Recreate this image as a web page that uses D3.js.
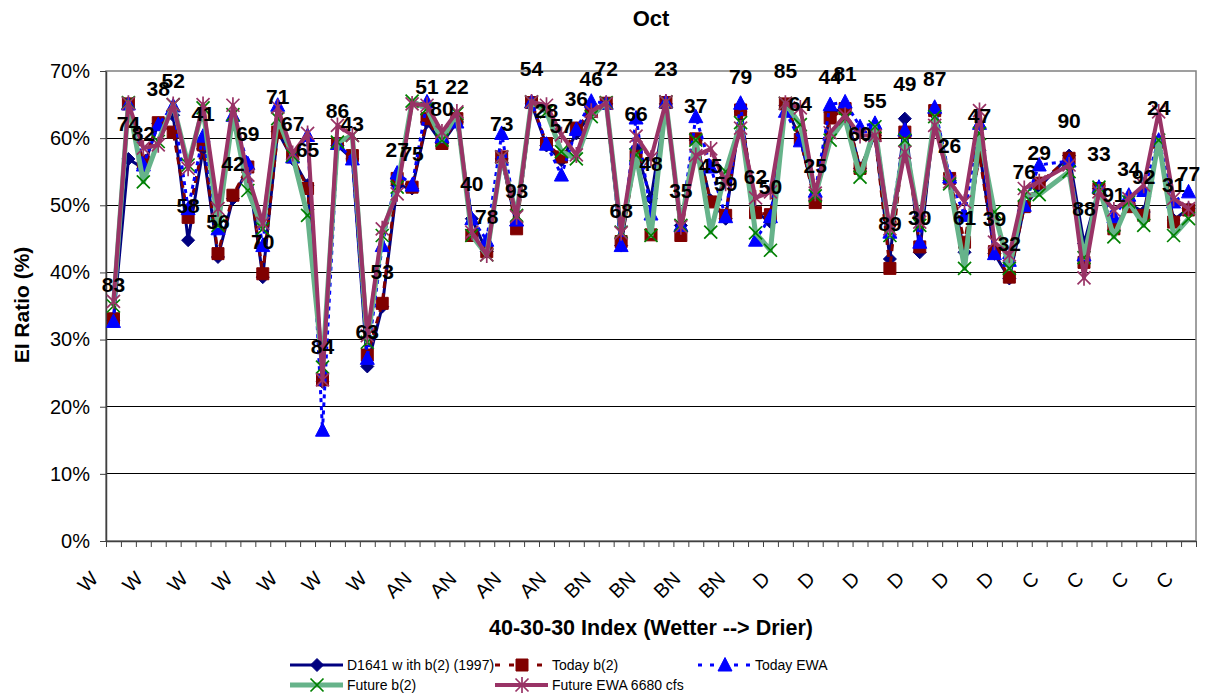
<!DOCTYPE html>
<html><head><meta charset="utf-8">
<script src="https://cdn.jsdelivr.net/npm/d3@7"></script>
<style>body{margin:0;background:#fff}svg{display:block;font-family:"Liberation Sans",Arial,sans-serif}</style>
</head><body><svg id="c" width="1208" height="697"></svg>
<script>
// ---------- data ----------
const years = ["83","74","82","38","52","58","41","56","42","69","70","71","67","65","84","86","43","63","53","27","75",
  "51","80","22","40","78","73","93","54","28","57",
  "36","46","72","68","66","48","23","35","37","45","59","79","62","50",
  "85","64","25","44","81","60","55","89","49","30","87","26","61","47","39","32",
  "76","29","94","90","88","33","91","34","92","24","31","77"];
const yearTypes = ["W","W","W","W","W","W","W","W","W","W","W","W","W","W","W","W","W","W","W","W","W",
  "AN","AN","AN","AN","AN","AN","AN","AN","AN","AN",
  "BN","BN","BN","BN","BN","BN","BN","BN","BN","BN","BN","BN","BN","BN",
  "D","D","D","D","D","D","D","D","D","D","D","D","D","D","D","D",
  "C","C","C","C","C","C","C","C","C","C","C","C"];
const d1641 = [32.9,56.9,55.5,62.2,63.4,44.8,58.4,42.3,51.0,55.5,39.3,61.0,56.9,53.0,23.7,58.9,56.9,26.0,34.9,53.0,52.5,
  62.4,59.2,62.4,48.0,43.1,56.9,47.0,65.1,58.9,56.7,
  60.7,63.6,65.1,44.0,58.4,51.0,65.1,47.0,59.7,50.7,48.0,63.9,49.0,47.5,
  64.9,59.9,50.7,63.9,64.4,55.5,60.4,42.0,62.9,43.0,63.6,53.7,43.0,58.2,42.8,39.1,
  49.8,52.7,null,57.4,44.3,52.5,46.3,50.2,49.0,59.4,47.8,49.5];
const todayB2 = [33.1,65.1,56.5,62.3,60.9,48.2,59.0,42.8,51.5,55.7,39.8,60.9,57.2,52.5,24.0,59.2,57.4,27.7,35.4,54.0,52.7,
  62.9,59.2,62.9,45.5,43.1,57.2,46.5,65.3,59.2,57.2,
  61.5,64.0,65.2,44.6,57.3,45.6,65.3,45.5,59.9,50.5,48.5,64.2,48.9,48.6,
  65.1,59.8,50.4,63.0,64.4,55.5,60.4,40.6,60.9,43.8,64.1,54.0,44.5,57.4,43.1,39.3,
  49.8,53.3,null,57.0,41.5,52.5,46.5,49.8,48.5,59.4,47.5,49.3];
const todayEWA = [32.7,65.1,56.0,62.0,64.8,49.5,60.3,46.5,63.4,56.2,44.0,64.9,57.2,60.4,16.5,59.2,56.9,27.2,44.0,54.8,53.0,
  65.4,60.2,62.4,48.0,44.8,60.7,47.8,65.4,59.1,54.5,
  61.3,65.5,65.2,44.0,63.0,48.7,65.4,47.0,63.2,55.7,48.3,65.2,44.8,48.3,
  64.0,59.6,52.1,65.0,65.4,61.7,62.2,46.0,61.2,44.5,64.6,54.2,48.5,62.2,42.8,41.8,
  50.0,56.0,null,56.6,42.6,52.7,48.3,51.5,52.2,59.7,50.5,52.0];
const futureB2 = [35.0,65.3,53.5,59.5,65.0,56.0,64.5,47.0,63.5,52.2,46.5,62.9,57.4,48.5,25.9,59.4,60.4,29.6,45.5,52.7,65.5,
  64.4,59.7,63.7,45.5,42.6,57.2,48.5,65.4,63.9,58.0,
  56.9,63.2,65.3,46.0,57.5,45.5,65.4,47.0,59.7,46.0,55.0,62.3,45.9,43.3,
  65.2,62.0,51.4,59.7,62.9,54.2,61.7,45.5,59.7,47.0,63.2,53.2,40.6,60.7,49.0,40.6,
  51.5,51.6,null,55.0,42.2,52.7,45.3,50.5,47.0,59.7,45.5,48.0];
const futureEWA = [35.7,65.2,58.5,59.0,65.0,55.5,65.0,49.5,64.9,54.5,47.3,64.6,57.7,60.7,24.0,61.9,60.4,30.6,46.5,51.7,65.1,
  64.9,60.9,63.9,46.0,42.6,57.2,48.3,65.4,64.9,60.5,
  57.5,64.0,65.2,45.9,60.3,57.0,65.4,46.8,57.4,58.4,53.3,61.5,51.1,52.0,
  65.2,64.5,51.8,60.8,63.4,60.4,60.4,46.5,57.9,47.5,61.9,53.5,50.5,64.1,44.5,42.6,
  52.5,53.5,null,56.0,39.2,52.0,49.3,51.0,53.0,63.9,51.0,49.5];
const seriesNames = ["D1641 w ith b(2) (1997)","Today b(2)","Today EWA","Future b(2)","Future EWA 6680 cfs"];
const yTicks = [0,10,20,30,40,50,60,70];
const titleText = "Oct";
const xTitle = "40-30-30 Index (Wetter --> Drier)";
const yTitle = "EI Ratio (%)";

// ---------- styles ----------
const styles = [
  {values:d1641,    line:"#000080", width:3,   dash:null,  marker:"diamond", mfill:"#000080", mstroke:"#000080"},
  {values:todayB2,  line:"#800000", width:3,   dash:"7,5", marker:"square",  mfill:"#800000", mstroke:"#800000"},
  {values:todayEWA, line:"#0000FF", width:3,   dash:"4,4", marker:"triangle",mfill:"#0000FF", mstroke:"#0000FF"},
  {values:futureB2, line:"#66B38A", width:5,   dash:null,  marker:"x",       mfill:"none",    mstroke:"#008000"},
  {values:futureEWA,line:"#993366", width:4,   dash:null,  marker:"star",    mfill:"none",    mstroke:"#993366"}
];
function markerPath(t){
  switch(t){
    case "diamond": return "M0,-6.5L6.5,0L0,6.5L-6.5,0Z";
    case "square": return "M-6,-6H6V6H-6Z";
    case "triangle": return "M0,-7.5L7,6L-7,6Z";
    case "x": return "M-6.5,-6.5L6.5,6.5M-6.5,6.5L6.5,-6.5";
    case "star": return "M-6.5,-6.5L6.5,6.5M-6.5,6.5L6.5,-6.5M0,-8L0,8";
  }
}

// ---------- chart ----------
const svg = d3.select("#c");
const L=106, R=1196, T=71, B=541;
const n = years.length;
const x = d3.scaleBand().domain(d3.range(n)).range([L,R]).padding(0);
const xb = d3.scaleLinear().domain([0,n]).range([L,R]);
const y = d3.scaleLinear().domain([0,70]).range([B,T]);
const cx = i => x(i) + x.bandwidth()/2;

// gridlines
svg.append("g").selectAll("line").data(yTicks.filter(v=>v>0 && v<70)).join("line")
  .attr("x1",L).attr("x2",R).attr("y1",d=>y(d)).attr("y2",d=>y(d))
  .attr("stroke","#000").attr("stroke-width",1).attr("shape-rendering","crispEdges");
// plot border
svg.append("rect").attr("x",L).attr("y",T).attr("width",R-L).attr("height",B-T)
  .attr("fill","none").attr("stroke","#808080").attr("stroke-width",1.5);

// y axis
const ya = svg.append("g").attr("transform",`translate(${L},0)`)
  .call(d3.axisLeft(y).tickValues(yTicks).tickSize(6).tickSizeOuter(0).tickFormat(d=>d+"%"));
ya.select(".domain").attr("stroke","#404040").attr("stroke-width",1.5);
ya.selectAll(".tick line").attr("stroke","#404040");
ya.selectAll("text").attr("font-size",20).attr("fill","#000").attr("x",-16);

// x axis ticks (between categories)
const xa = svg.append("g").attr("transform",`translate(0,${B})`)
  .call(d3.axisBottom(xb).tickValues(d3.range(0,n+1)).tickSize(6).tickSizeOuter(0).tickFormat(""));
xa.select(".domain").attr("stroke","#404040").attr("stroke-width",1.5);
xa.selectAll(".tick line").attr("stroke","#404040");
// x labels
const xl = svg.append("g").attr("transform",`translate(0,${B})`)
  .call(d3.axisBottom(x).tickValues(d3.range(0,n,3)).tickSize(0).tickFormat(i=>yearTypes[i]));
xl.select(".domain").remove();
xl.selectAll("text").attr("font-size",20).attr("fill","#000")
  .attr("text-anchor","end").attr("x",0).attr("y",0).attr("dy","0.35em")
  .attr("transform","translate(-19,34) rotate(-45)");

// series
const lineGen = d3.line().x(d=>cx(d.i)).y(d=>y(d.v));
styles.forEach((s,k)=>{
  const pts = s.values.map((v,i)=>({i,v})).filter(d=>d.v!=null);
  const g = svg.append("g");
  g.append("path").datum(pts).attr("d",lineGen).attr("fill","none")
    .attr("stroke",s.line).attr("stroke-width",s.width)
    .attr("stroke-dasharray",s.dash).attr("stroke-linejoin","round");
  g.selectAll("path.m").data(pts).join("path").attr("class","m")
    .attr("transform",d=>`translate(${cx(d.i)},${y(d.v)})`)
    .attr("d",markerPath(s.marker)).attr("fill",s.mfill)
    .attr("stroke",s.mstroke).attr("stroke-width",s.marker==="x"||s.marker==="star"?1.7:1);
});

// data labels (years) above D1641 points
svg.append("g").selectAll("text").data(d1641.map((v,i)=>({i,v})).filter(d=>d.v!=null)).join("text")
  .attr("x",d=>cx(d.i)).attr("y",d=>y(d.v)-35).attr("dy","0.35em")
  .attr("text-anchor","middle").attr("font-size",21).attr("font-weight","bold")
  .text(d=>years[d.i]);

// titles
svg.append("text").attr("x",(L+R)/2).attr("y",18).attr("dy","0.35em").attr("text-anchor","middle")
  .attr("font-size",22).attr("font-weight","bold").text(titleText);
svg.append("text").attr("x",(L+R)/2).attr("y",627).attr("dy","0.35em").attr("text-anchor","middle")
  .attr("font-size",21.5).attr("font-weight","bold").text(xTitle);
svg.append("text").attr("transform","translate(22,305) rotate(-90)").attr("dy","0.35em").attr("text-anchor","middle")
  .attr("font-size",21).attr("font-weight","bold").text(yTitle);

// legend
const legPos = [[290,665],[495,665],[698,665],[290,685],[495,685]];
styles.forEach((s,k)=>{
  const [lx,ly] = legPos[k];
  const g = svg.append("g").attr("transform",`translate(${lx},${ly})`);
  g.append("line").attr("x1",0).attr("x2",53).attr("y1",0).attr("y2",0)
    .attr("stroke",s.line).attr("stroke-width",s.width).attr("stroke-dasharray",s.dash ? (k===1?"5,9":"4,8") : null);
  g.append("path").attr("transform","translate(27,0)").attr("d",markerPath(s.marker))
    .attr("fill",s.mfill).attr("stroke",s.mstroke).attr("stroke-width",s.marker==="x"||s.marker==="star"?1.7:1);
  g.append("text").attr("x",57).attr("y",0).attr("dy","0.35em").attr("font-size",14).text(seriesNames[k]);
});
</script></body></html>
